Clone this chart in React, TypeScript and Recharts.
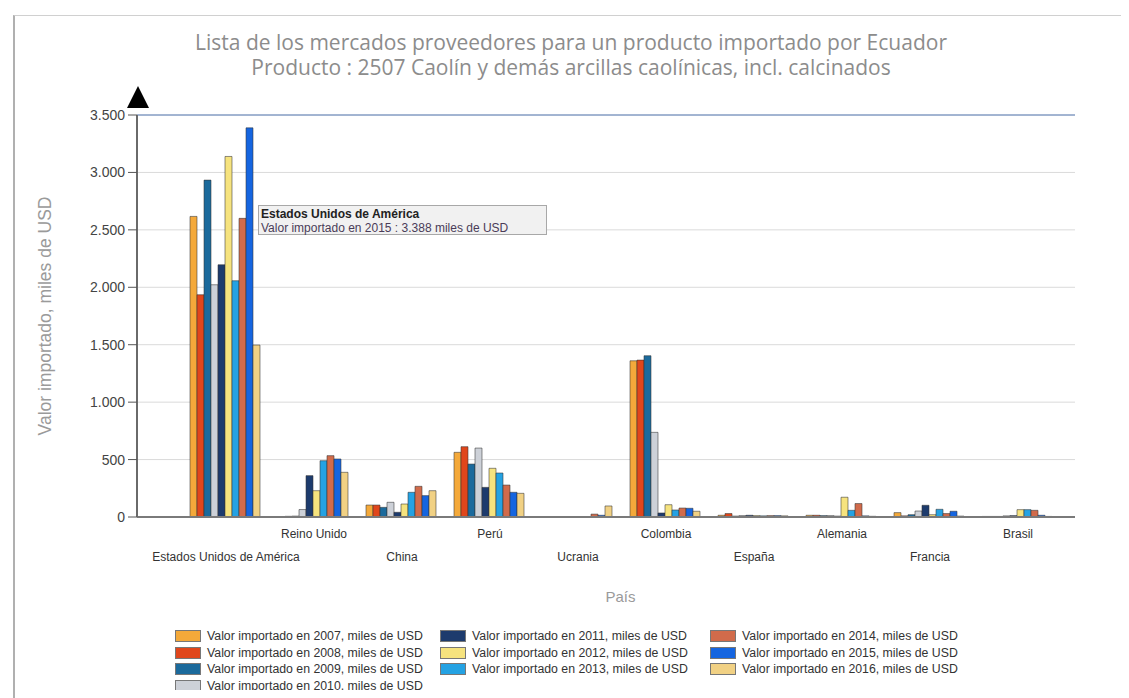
import React from 'react';
import { BarChart, Bar, XAxis, YAxis, CartesianGrid, ReferenceLine } from 'recharts';

const countries = [
  'Estados Unidos de América',
  'Reino Unido',
  'China',
  'Perú',
  'Ucrania',
  'Colombia',
  'España',
  'Alemania',
  'Francia',
  'Brasil',
];

const years = ['2007', '2008', '2009', '2010', '2011', '2012', '2013', '2014', '2015', '2016'];

// values in miles de USD
const v2007 = [2617, 0, 104, 563, 0, 1360, 15, 15, 38, 5];
const v2008 = [1935, 6, 104, 612, 0, 1366, 30, 15, 10, 5];
const v2009 = [2933, 8, 84, 461, 0, 1404, 8, 12, 20, 5];
const v2010 = [2022, 65, 128, 600, 0, 737, 12, 12, 52, 10];
const v2011 = [2196, 360, 41, 258, 0, 35, 15, 8, 102, 12];
const v2012 = [3139, 229, 113, 424, 0, 107, 12, 172, 20, 64];
const v2013 = [2057, 490, 215, 383, 0, 61, 10, 58, 67, 64];
const v2014 = [2600, 534, 267, 278, 25, 78, 12, 117, 30, 58];
const v2015 = [3388, 505, 186, 215, 15, 76, 12, 10, 50, 15];
const v2016 = [1497, 389, 229, 206, 96, 50, 10, 6, 8, 5];

const seriesValues = [v2007, v2008, v2009, v2010, v2011, v2012, v2013, v2014, v2015, v2016];

const colors = [
  '#f4a93a', // 2007
  '#e0461b', // 2008
  '#1b6a9c', // 2009
  '#cdd1d8', // 2010
  '#1d3b6d', // 2011
  '#f6e37e', // 2012
  '#24a2e3', // 2013
  '#d16b4b', // 2014
  '#1565e0', // 2015
  '#f1d184', // 2016
];

const yTicks = [0, 500, 1000, 1500, 2000, 2500, 3000, 3500];

const data = countries.map((name, i) => {
  const row: Record<string, string | number> = { name };
  years.forEach((y, j) => {
    row['y' + y] = seriesValues[j][i];
  });
  return row;
});

const fmt = (n: number) => String(n).replace(/\B(?=(\d{3})+(?!\d))/g, '.');

const FONT = '"Liberation Sans", Arial, sans-serif';

// labels alternate between two rows like the original
const CountryTick = (props: any) => {
  const { x, y, payload, index } = props;
  const dy = index % 2 === 0 ? 36 : 13;
  return (
    <text x={x} y={y} dy={dy} textAnchor="middle" fontSize={12} fill="#333" fontFamily={FONT}>
      {payload.value}
    </text>
  );
};

const legendLabel = (y: string) => `Valor importado en ${y}, miles de USD`;

export default function App() {
  // legend laid out in columns: 4 / 3 / 3
  const cols = [years.slice(0, 4), years.slice(4, 7), years.slice(7, 10)];
  const colX = [167, 432, 702];

  return (
    <div style={{ position: 'relative', width: 1121, height: 690, fontFamily: FONT, background: '#fff' }}>
      {/* outer frame */}
      <div
        style={{
          position: 'absolute',
          left: 5,
          top: 7,
          width: 1116,
          height: 683,
          borderLeft: '2px solid #b0b0b0',
          borderTop: '1px solid #d0d0d0',
        }}
      />

      <div
        style={{
          position: 'absolute',
          left: 0,
          top: 22,
          width: 1126,
          textAlign: 'center',
          color: '#8c8c8c',
          fontFamily: '"Open Sans", sans-serif',
          fontSize: 21,
          lineHeight: '25px',
        }}
      >
        <div>Lista de los mercados proveedores para un producto importado por Ecuador</div>
        <div>Producto : 2507 Caolín y demás arcillas caolínicas, incl. calcinados</div>
      </div>

      <div style={{ position: 'absolute', left: 0, top: 0 }}>
        <BarChart
          width={1121}
          height={685}
          data={data}
          margin={{ top: 107, right: 54, left: 0, bottom: 116 }}
          barCategoryGap={8}
          barGap={0}
        >
          <CartesianGrid vertical={false} stroke="#dadada" />
          <XAxis
            dataKey="name"
            interval={0}
            height={60}
            tick={<CountryTick />}
            tickLine={false}
            axisLine={{ stroke: '#7a7a7a', strokeWidth: 2 }}
            padding={{ left: 45, right: 13 }}
          />
          <YAxis
            width={129}
            domain={[0, 3500]}
            ticks={yTicks}
            interval={0}
            tickFormatter={fmt}
            tickSize={9}
            tickMargin={3}
            tick={{ fontSize: 14, fill: '#444', fontFamily: FONT }}
            tickLine={{ stroke: '#555' }}
            axisLine={{ stroke: '#6a6a6a', strokeWidth: 2 }}
            label={{
              value: 'Valor importado, miles de USD',
              angle: -90,
              position: 'insideLeft',
              offset: 37,
              style: { textAnchor: 'middle', fill: '#9a9a9a', fontSize: 17.5, fontFamily: FONT },
            }}
          />
          <YAxis
            yAxisId="frame"
            orientation="right"
            width={0}
            tick={false}
            tickLine={false}
            axisLine={{ stroke: '#8aa2c8' }}
          />
          <ReferenceLine y={3500} stroke="#8aa2c8" strokeWidth={1.5} />
          {years.map((y, j) => (
            <Bar
              key={y}
              dataKey={'y' + y}
              fill={colors[j]}
              stroke="#333"
              strokeOpacity={0.55}
              strokeWidth={1}
              isAnimationActive={false}
            />
          ))}
        </BarChart>
      </div>

      {/* black arrow on top of the value axis */}
      <svg style={{ position: 'absolute', left: 0, top: 0 }} width={200} height={120}>
        <polygon points="130,78 119,100 141,100" fill="#000" />
      </svg>

      {/* hover box as it appears in the screenshot */}
      <div
        style={{
          position: 'absolute',
          left: 250,
          top: 197,
          width: 289,
          height: 30,
          background: '#f1f1f1',
          border: '1px solid #a8a8a8',
          fontSize: 12,
          lineHeight: '14px',
          padding: '1px 0 0 2px',
          boxSizing: 'border-box',
          whiteSpace: 'nowrap',
        }}
      >
        <div style={{ fontWeight: 'bold', color: '#222' }}>Estados Unidos de América</div>
        <div style={{ color: '#4a3c58' }}>Valor importado en 2015 : 3.388 miles de USD</div>
      </div>

      <div
        style={{
          position: 'absolute',
          left: 560,
          top: 580,
          width: 105,
          textAlign: 'center',
          color: '#9a9a9a',
          fontSize: 15,
        }}
      >
        País
      </div>

      {/* legend, last row cut by the bottom edge as in the original */}
      <div style={{ position: 'absolute', left: 0, top: 620, width: 1121, height: 62, overflow: 'hidden' }}>
        {cols.map((col, c) => (
          <div key={c} style={{ position: 'absolute', left: colX[c], top: 0 }}>
            {col.map((y) => {
              const j = years.indexOf(y);
              return (
                <div key={y} style={{ display: 'flex', alignItems: 'center', height: 16.5 }}>
                  <span
                    style={{
                      display: 'inline-block',
                      width: 24,
                      height: 10,
                      background: colors[j],
                      border: '1px solid #777',
                      marginRight: 6,
                    }}
                  />
                  <span style={{ fontSize: 12.3, color: '#333', whiteSpace: 'nowrap' }}>{legendLabel(y)}</span>
                </div>
              );
            })}
          </div>
        ))}
      </div>
    </div>
  );
}
